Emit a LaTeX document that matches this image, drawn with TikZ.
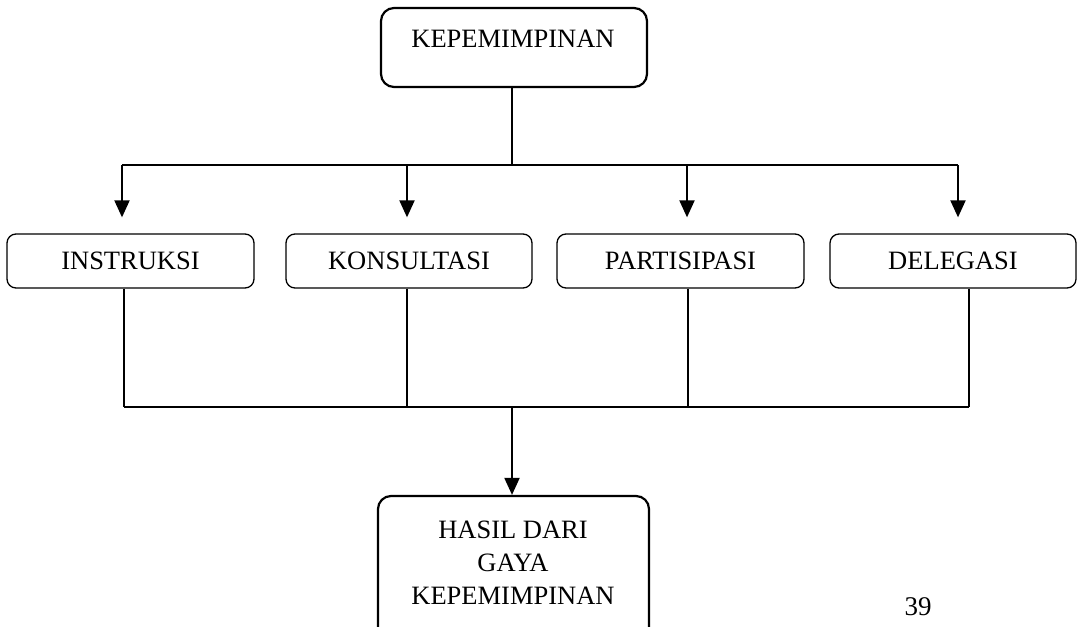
\documentclass[tikz,border=0pt]{standalone}
\usepackage{fontspec}
\setmainfont{Liberation Serif}
\usetikzlibrary{arrows.meta}
\begin{document}
\begin{tikzpicture}[x=1pt,y=-1pt,
  midbox/.style={draw, rounded corners=9pt, line width=1.3pt, minimum width=#1, minimum height=54pt, inner sep=0pt, font=\fontsize{26.5}{32}\selectfont},
  bigbox/.style={draw, rounded corners=13pt, line width=2.2pt, inner sep=0pt},
  conn/.style={line width=1.5pt},
  arr/.style={line width=2pt, -{Triangle[length=17pt,width=15pt]}},
  lbl/.style={font=\fontsize{26.5}{33}\selectfont, align=center, inner sep=0pt}]
\clip (0,0) rectangle (1083,626);
\fill[white] (0,0) rectangle (1083,626);

% top box
\node[bigbox, minimum width=266pt, minimum height=79pt] (top) at (514,47.5) {};
\node[lbl] (toptext) at (513,39) {KEPEMIMPINAN};

% middle boxes
\node[midbox=247pt] (ins) at (130.5,261) {INSTRUKSI};
\node[midbox=246pt] (kon) at (409,261) {KONSULTASI};
\node[midbox=247pt] (par) at (680.5,261) {PARTISIPASI};
\node[midbox=246pt] (del) at (953,261) {DELEGASI};

% bottom box
\node[bigbox, minimum width=271pt, minimum height=164pt] (bot) at (513.5,578) {};
\node[lbl] (bottext) at (513,563) {HASIL DARI\\GAYA\\KEPEMIMPINAN};

% page number
\node[lbl, font=\fontsize{27}{32}\selectfont] (pg) at (918,607) {39};

% upper connectors
\coordinate (tj) at (512,165);
\coordinate (a1) at (122,165);
\coordinate (a2) at (407,165);
\coordinate (a3) at (687,165);
\coordinate (a4) at (958,165);
\draw[conn] (top.south -| tj) -- (tj);
\draw[conn] (a1) -- (a4);
\draw[arr, shorten >=16pt] (a1) -- (a1 |- ins.north);
\draw[arr, shorten >=16pt] (a2) -- (a2 |- kon.north);
\draw[arr, shorten >=16pt] (a3) -- (a3 |- par.north);
\draw[arr, shorten >=16pt] (a4) -- (a4 |- del.north);

% lower connectors
\coordinate (b1) at (124,407);
\coordinate (b2) at (407,407);
\coordinate (b3) at (688,407);
\coordinate (b4) at (969,407);
\coordinate (bj) at (512,407);
\draw[conn] (b1 |- ins.south) -- (b1);
\draw[conn] (b2 |- kon.south) -- (b2);
\draw[conn] (b3 |- par.south) -- (b3);
\draw[conn] (b4 |- del.south) -- (b4);
\draw[conn] (b1) -- (b4);
\draw[arr] (bj) -- (bj |- bot.north);
\end{tikzpicture}
\end{document}
